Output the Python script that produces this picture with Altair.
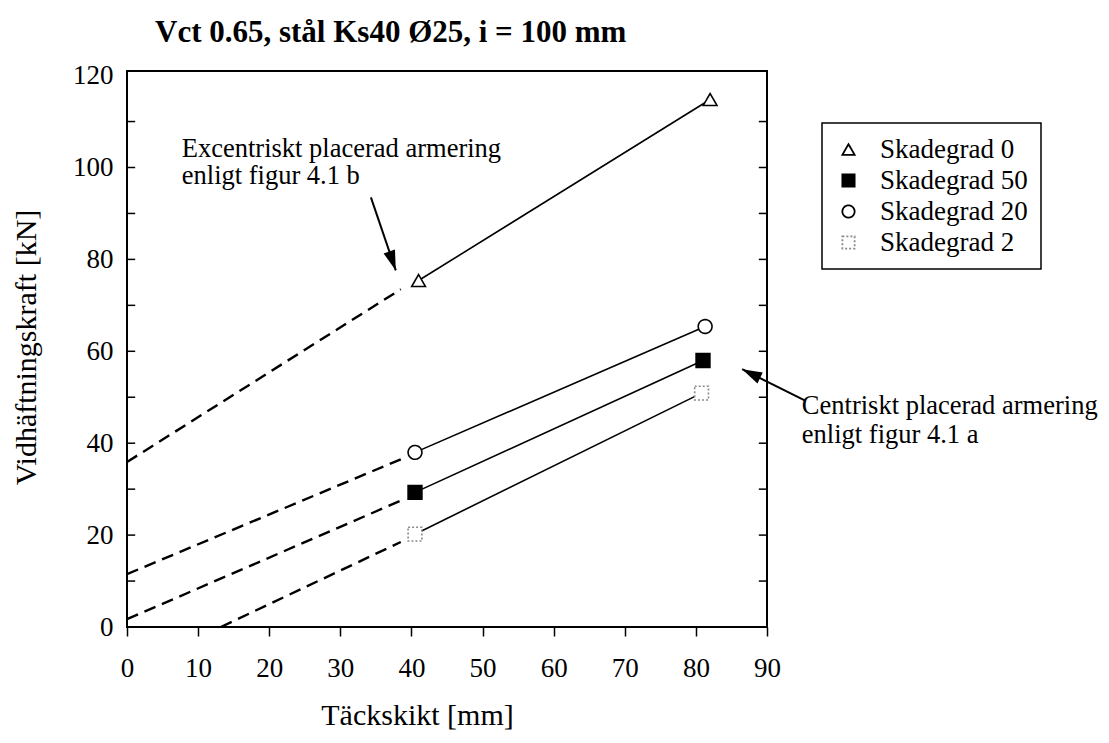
import altair as alt
import pandas as pd

# ---- data ----
series = ["Skadegrad 0", "Skadegrad 50", "Skadegrad 20", "Skadegrad 2"]
x_first = [41.0, 40.5, 40.5, 40.5]
y_first = [75.4, 29.3, 38.0, 20.2]
x_second = [82.0, 81.0, 81.3, 80.8]
y_second = [114.8, 58.0, 65.4, 50.9]
dash_x_start = [0.0, 0.0, 0.0, 13.2]
dash_y_start = [35.9, 1.7, 11.5, 0.0]
dash_x_end = [38.5, 38.5, 38.5, 38.5]
dash_y_end = [73.5, 27.5, 36.5, 18.5]

x_tick_values = list(range(0, 95, 5))
y_label_values = list(range(0, 121, 20))
y_minor_values = list(range(10, 120, 10))

note_text = ["Excentriskt placerad armering", "enligt figur 4.1 b",
             "Centriskt placerad armering", "enligt figur 4.1 a"]
note_x = [7.7, 7.7, 94.9, 94.9]
note_y = [102.2, 96.3, 46.3, 40.0]

arrow_x_start = [34.3, 95.3]
arrow_y_start = [93.5, 49.3]
arrow_x_end = [37.8, 86.5]
arrow_y_end = [77.6, 56.1]
arrow_angle = [161, 296]

# ---- styles ----
shape_range = ["triangle-up", "square", "circle", "square"]
fill_range = ["white", "black", "white", "white"]
stroke_range = ["black", "black", "black", "#8a8a8a"]
dash_range = [[1, 0], [1, 0], [1, 0], [2, 2]]
FONT = "Liberation Serif"

pts = pd.DataFrame({
    "series": series + series,
    "x": x_first + x_second,
    "y": y_first + y_second,
})
solid = pts.copy()
dashed = pd.DataFrame({
    "series": series + series,
    "x": dash_x_start + dash_x_end,
    "y": dash_y_start + dash_y_end,
})
notes = pd.DataFrame({"text": note_text, "x": note_x, "y": note_y})
arrows = pd.DataFrame({"x": arrow_x_start, "y": arrow_y_start,
                       "x2": arrow_x_end, "y2": arrow_y_end,
                       "angle": arrow_angle})
yticks = pd.DataFrame({"v": y_minor_values})

xscale = alt.Scale(domain=[0, 90], nice=False, zero=False)
yscale = alt.Scale(domain=[0, 121], nice=False, zero=False)

x_axis = alt.Axis(
    values=x_tick_values,
    labelExpr="datum.value % 10 == 0 ? datum.label : ''",
    tickSize={"condition": {"test": "datum.value % 10 == 0", "value": 9}, "value": 5},
    tickColor="black", tickWidth=1.5, domain=False, grid=False,
    labelFont=FONT, labelFontSize=27, labelColor="black", labelFlush=False,
    labelBaseline="alphabetic", labelPadding=40,
    title="Täckskikt [mm]", titleFont=FONT, titleFontSize=30,
    titleFontWeight="normal", titleColor="black",
    titleX=290, titleY=97, titleBaseline="alphabetic", titleAlign="center",
)
y_axis = alt.Axis(
    values=y_label_values, tickSize=0, domain=False, grid=False,
    labelFont=FONT, labelFontSize=27, labelColor="black", labelPadding=14,
    labelFlush=False,
    title="Vidhäftningskraft [kN]", titleFont=FONT, titleFontSize=30,
    titleFontWeight="normal", titleColor="black",
    titleX=-86, titleY=276, titleAngle=-90, titleAlign="center",
    titleBaseline="bottom",
)

base_x = alt.X("x:Q", scale=xscale, axis=x_axis)
base_y = alt.Y("y:Q", scale=yscale, axis=y_axis)

solid_lines = alt.Chart(solid).mark_line(color="black", strokeWidth=1.6).encode(
    x=base_x, y=base_y, detail="series:N")
dashed_lines = alt.Chart(dashed).mark_line(
    color="black", strokeWidth=2.4, strokeDash=[12, 7]).encode(
    x="x:Q", y="y:Q", detail="series:N")

legend = alt.Legend(
    orient="none", legendX=695, legendY=52,
    labelFont=FONT, labelFontSize=27, labelColor="black",
    strokeColor="black", padding=13, rowPadding=3, labelOffset=18,
    symbolSize=150, symbolStrokeWidth=1.8, fillColor="white",
)

points = alt.Chart(pts).mark_point(filled=True, size=190, strokeWidth=1.6, opacity=1).encode(
    x="x:Q", y="y:Q",
    shape=alt.Shape("series:N", title=None,
                    scale=alt.Scale(domain=series, range=shape_range),
                    legend=legend),
    fill=alt.Fill("series:N", title=None,
                  scale=alt.Scale(domain=series, range=fill_range)),
    stroke=alt.Stroke("series:N", title=None,
                      scale=alt.Scale(domain=series, range=stroke_range)),
    strokeDash=alt.StrokeDash("series:N", title=None,
                              scale=alt.Scale(domain=series, range=dash_range)),
)

left_ticks = alt.Chart(yticks).mark_rule(color="black", strokeWidth=1.5).encode(
    x=alt.datum(0), x2=alt.datum(1.15), y="v:Q")
right_ticks = alt.Chart(yticks).mark_rule(color="black", strokeWidth=1.5).encode(
    x=alt.datum(88.85), x2=alt.datum(90), y="v:Q")

note_marks = alt.Chart(notes).mark_text(
    font=FONT, fontSize=26.5, align="left", baseline="alphabetic", color="black").encode(
    x="x:Q", y="y:Q", text="text:N")

arrow_lines = alt.Chart(arrows).mark_rule(color="black", strokeWidth=2).encode(
    x="x:Q", y="y:Q", x2="x2:Q", y2="y2:Q")
arrow_heads = alt.Chart(arrows).mark_point(
    shape="M0,0L0.6,2L-0.6,2Z", filled=True, color="black", size=400, opacity=1).encode(
    x="x2:Q", y="y2:Q", angle=alt.Angle("angle:Q", scale=None))

chart = alt.layer(
    dashed_lines, solid_lines, left_ticks, right_ticks, points,
    note_marks, arrow_lines, arrow_heads,
).properties(
    width=640, height=556, background="white",
    padding={"left": 127, "top": 71, "right": 342, "bottom": 116},
    autosize=alt.AutoSizeParams(type="none"),
    title=alt.TitleParams(
        "Vct 0.65, stål Ks40 Ø25, i = 100 mm", font=FONT, fontSize=31,
        fontWeight="bold", anchor="start", frame="group", dx=28, offset=0, dy=11,
        baseline="alphabetic", color="black"),
).configure_view(
    stroke="black", strokeWidth=2
).configure_legend(
    strokeWidth=1.5,
)

chart.save("out.html", embed_options={"renderer": "svg", "actions": False})
